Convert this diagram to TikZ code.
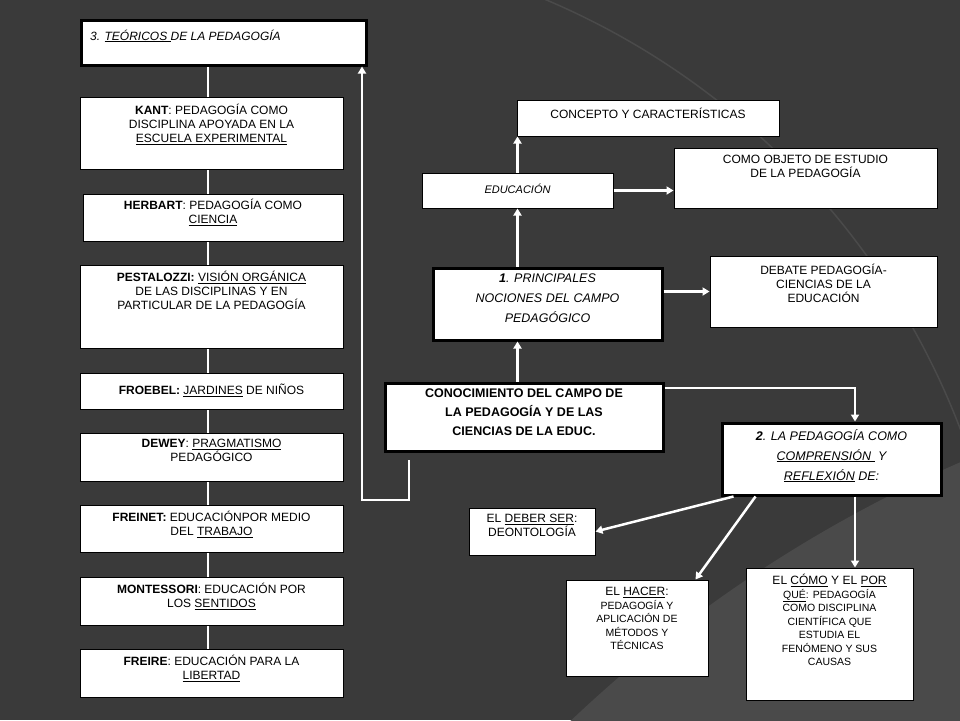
\documentclass[tikz,border=0pt]{standalone}
\usepackage{fontspec}
\setmainfont{Liberation Sans}
\usetikzlibrary{arrows.meta}
\definecolor{bgA}{HTML}{3A3A3A}
\definecolor{bgB}{HTML}{4A4A4A}
\newcommand{\ul}[1]{\underline{#1}}
\begin{document}
\begin{tikzpicture}[x=1pt,y=-1pt,
  bx/.style={draw=black,fill=white,line width=1pt,inner sep=0pt},
  tbx/.style={draw=black,fill=white,line width=3pt,inner sep=0pt},
  txt/.style={anchor=north,align=center,font=\fontsize{12}{14}\selectfont,inner sep=0pt},
  stxt/.style={anchor=north,align=center,font=\fontsize{10.5}{13.5}\selectfont,inner sep=0pt},
  ln/.style={draw=white,line width=2.5pt},
  ar/.style={draw=white,line width=2.5pt,-{Triangle[length=7pt,width=8pt]}}]
\fill[bgA] (0,0) rectangle (960,720);
\begin{scope}
\clip (0,0) rectangle (960,720);
\fill[bgB] (1500,1700) circle (1350);
\draw[bgB,line width=1.5pt] (250,700) circle (760);
\end{scope}
\useasboundingbox (0,0) rectangle (960,720);
% left column
\foreach \n/\ya/\yb/\xa in {t3/20/65/80,kant/97/169/80,herb/194/241/83,pest/265/348/80,froe/373/409/80,dew/433/481/80,frei/505/552/80,mont/577/625/80,fre/649/697/80}{
  \coordinate (\n-nw) at (\xa,\ya);}
\draw[ln] (208,60) -- (208,690);
\node[tbx,minimum width=285,minimum height=45] (t3) at (223.5,42.5) {};
\node[anchor=west,inner sep=0pt,font=\fontsize{12}{14}\selectfont\itshape] (t3t) at (90,36) {3. \ul{TEÓRICOS }DE LA PEDAGOGÍA};
\node[bx,minimum width=263,minimum height=72] (kant) at (211.5,133) {};
\node[txt] (kantt) at (211.5,104) {\textbf{KANT}: PEDAGOGÍA COMO\\DISCIPLINA APOYADA EN LA\\\ul{ESCUELA EXPERIMENTAL}};
\node[bx,minimum width=260,minimum height=47] (herb) at (213,217.5) {};
\node[txt] (herbt) at (213,199) {\textbf{HERBART}: PEDAGOGÍA COMO\\\ul{CIENCIA}};
\node[bx,minimum width=263,minimum height=83] (pest) at (211.5,306.5) {};
\node[txt] (pestt) at (211.5,271) {\textbf{PESTALOZZI:} \ul{VISIÓN ORGÁNICA}\\DE LAS DISCIPLINAS Y EN\\PARTICULAR DE  LA PEDAGOGÍA};
\node[bx,minimum width=263,minimum height=36] (froe) at (211.5,391) {};
\node[txt] (froet) at (211.5,384) {\textbf{FROEBEL:} \ul{JARDINES} DE NIÑOS};
\node[bx,minimum width=263,minimum height=48] (dew) at (211.5,457) {};
\node[txt] (dewt) at (211.5,439) {\textbf{DEWEY}: \ul{PRAGMATISMO}\\PEDAGÓGICO};
\node[bx,minimum width=263,minimum height=47] (frei) at (211.5,528.5) {};
\node[txt] (freit) at (211.5,511) {\textbf{FREINET:} EDUCACIÓNPOR MEDIO\\DEL \ul{TRABAJO}};
\node[bx,minimum width=263,minimum height=48] (mont) at (211.5,601) {};
\node[txt] (montt) at (211.5,583) {\textbf{MONTESSORI}: EDUCACIÓN POR\\LOS \ul{SENTIDOS}};
\node[bx,minimum width=263,minimum height=48] (fre) at (211.5,673) {};
\node[txt] (fret) at (211.5,655) {\textbf{FREIRE}: EDUCACIÓN PARA LA\\\ul{LIBERTAD}};
% right part
\node[bx,minimum width=262,minimum height=36] (conc) at (648,118) {};
\node[txt] (conct) at (648,108) {CONCEPTO Y CARACTERÍSTICAS};
\node[bx,minimum width=191,minimum height=35] (edu) at (517.5,190.5) {};
\node[txt,font=\fontsize{11}{13}\selectfont\itshape] (edut) at (517.5,184) {EDUCACIÓN};
\node[bx,minimum width=263,minimum height=60] (obj) at (805.5,178) {};
\node[txt] (objt) at (805.5,155) {COMO OBJETO  DE ESTUDIO\\DE LA PEDAGOGÍA};
\node[tbx,minimum width=229,minimum height=72] (prin) at (547.5,304) {};
\node[txt,font=\fontsize{12.5}{20}\selectfont\itshape] (print) at (547.5,274) {\textbf{1}. PRINCIPALES\\NOCIONES  DEL  CAMPO\\PEDAGÓGICO};
\node[bx,minimum width=227,minimum height=71] (deb) at (823.5,291.5) {};
\node[txt] (debt) at (823.5,264) {DEBATE PEDAGOGÍA-\\CIENCIAS DE LA\\EDUCACIÓN};
\node[tbx,minimum width=278,minimum height=68] (cono) at (524,417) {};
\node[txt,font=\fontsize{12.5}{19}\selectfont\bfseries] (conot) at (524,389) {CONOCIMIENTO DEL CAMPO DE\\LA PEDAGOGÍA  Y DE LAS\\CIENCIAS DE LA EDUC.};
\node[tbx,minimum width=219,minimum height=72] (dos) at (831.5,459) {};
\node[txt,font=\fontsize{12.5}{20}\selectfont\itshape] (dost) at (831.5,429) {\textbf{2}. LA PEDAGOGÍA  COMO\\\ul{COMPRENSIÓN } Y\\\ul{REFLEXIÓN}  DE:};
\node[bx,minimum width=126,minimum height=47] (deber) at (532,531.5) {};
\node[txt] (debert) at (532,514) {EL \ul{DEBER SER}:\\DEONTOLOGÍA};
\node[bx,minimum width=142,minimum height=96] (hacer) at (637,628) {};
\node[stxt] (hacert) at (637,587) {{\fontsize{12}{14}\selectfont EL \ul{HACER}:}\\PEDAGOGÍA Y\\APLICACIÓN  DE\\MÉTODOS  Y\\TÉCNICAS};
\node[bx,minimum width=167,minimum height=132] (como) at (829.5,634) {};
\node[stxt] (comot) at (829.5,574) {{\fontsize{12}{14}\selectfont EL \ul{CÓMO} Y EL \ul{POR}}\\\ul{QUÉ}: PEDAGOGÍA\\COMO  DISCIPLINA\\CIENTÍFICA  QUE\\ESTUDIA EL\\FENÓMENO  Y SUS\\CAUSAS};
% connectors
\coordinate (c1) at (409,500);
\coordinate (c2) at (362,500);
\coordinate (c3) at (409,460);
\draw[ar] (c3) -- (c1) -- (c2) -- (t3.south east -| c2);
\draw[ar] (cono.north -| edu) -- (prin.south -| edu);
\draw[ar] (prin.north -| edu) -- (edu.south);
\draw[ar] (edu.north) -- (conc.south -| edu);
\draw[ar] (edu.east) -- (edu.east -| obj.west);
\draw[ar] (prin.east |- deb) -- (deb.west);
\coordinate (c4) at (855,388);
\draw[ar] (cono.east |- c4) -- (c4) -- (c4 |- dos.north);
\draw[ar] (c4 |- dos.south) -- (c4 |- como.north);
\draw[ar] ([xshift=13pt]dos.south west) -- (deber.east);
\draw[ar] ([xshift=35pt]dos.south west) -- ([xshift=-13pt]hacer.north east);
\end{tikzpicture}
\end{document}
